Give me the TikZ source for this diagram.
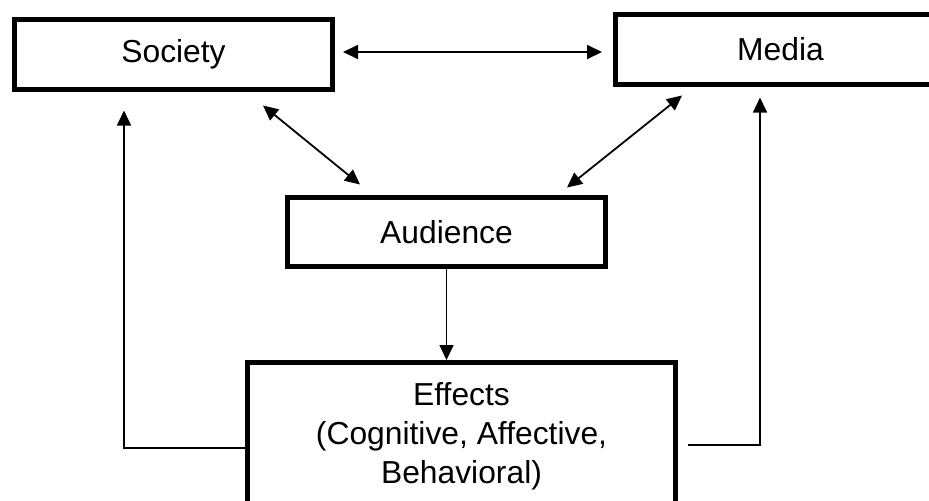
\documentclass[tikz,border=0pt]{standalone}
\usepackage{fontspec}
\setmainfont{Liberation Sans}
\usetikzlibrary{arrows.meta,positioning,calc}
\tikzset{
  efbox/.style={draw=black, line width=2.5pt, fill=white, align=center, inner sep=2pt},
  efarrow/.style={-{Triangle[length=7.5pt,width=7pt]}, line width=0.8pt, draw=black},
  efboth/.style={{Triangle[length=7.5pt,width=7pt]}-{Triangle[length=7.5pt,width=7pt]}, line width=0.9pt, draw=black}
}

\begin{document}
\begin{tikzpicture}[x=0.5pt, y=-0.5pt, every node/.style={font=\fontsize{15.9}{19.5}\selectfont}]
  \clip (0,0) rectangle (929,500);
  \node[efbox, minimum width=159pt, minimum height=35pt] (soc) at (173.5,54.5) {Society};
  \node[efbox, minimum width=165pt, minimum height=35pt] (media) at (780.5,49.5) {Media};
  \node[efbox, minimum width=159pt, minimum height=34.5pt] (aud) at (446.5,232) {Audience};
  \node[efbox, minimum width=214pt, minimum height=74pt] (eff) at (461.5,436.5) {Effects\\(Cognitive, Affective,\\Behavioral)};
  % links between the three actors
  \draw[efboth] ([xshift=4pt,yshift=1.25pt]soc.east) -- ([xshift=-5.5pt,yshift=-1.25pt]media.west);
  \draw[efboth] ([xshift=44.75pt,yshift=-6.75pt]soc.south) -- ([xshift=-43.25pt,yshift=5.25pt]aud.north);
  \draw[efboth] ([xshift=-49.25pt,yshift=-4.25pt]media.south) -- ([xshift=60.25pt,yshift=3.75pt]aud.north);
  \draw[efarrow] (aud.south) -- (aud.south |- eff.north);
  % feedback loops
  \draw[efarrow] ([yshift=-5.75pt]eff.west) -| ([xshift=-24.75pt,yshift=-9.25pt]soc.south);
  \draw[efarrow] ([xshift=4.75pt,yshift=-4.25pt]eff.east) -| ([xshift=-10.25pt,yshift=-5.25pt]media.south);
\end{tikzpicture}
\end{document}
